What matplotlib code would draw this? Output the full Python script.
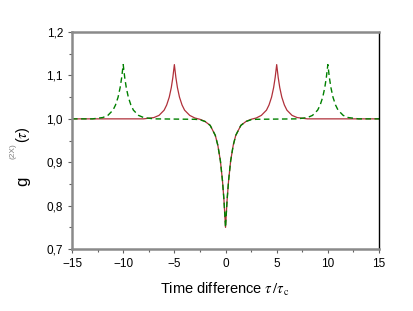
import numpy as np
import matplotlib.pyplot as plt
from matplotlib.ticker import MultipleLocator, FuncFormatter

plt.rcParams['font.family'] = ['Liberation Sans', 'DejaVu Sans']
plt.rcParams['mathtext.fontset'] = 'stix'

# === Data ===
tau_red = [-15, -8, -7, -6.5, -6, -5.75, -5.5, -5.3, -5.15, -5, -4.85, -4.7, -4.5, -4.25, -4,
           -3.5, -3, -2.5, -2, -1.5, -1, -0.75, -0.5, -0.3, -0.15, 0,
           0.15, 0.3, 0.5, 0.75, 1, 1.5, 2, 2.5, 3, 3.5,
           4, 4.25, 4.5, 4.7, 4.85, 5, 5.15, 5.3, 5.5, 5.75, 6, 6.5, 7, 8, 15]
g_red = [1.0, 1.0, 1.003, 1.008, 1.020, 1.032, 1.050, 1.072, 1.095, 1.125, 1.095, 1.072, 1.050, 1.032, 1.020,
         1.008, 1.002, 0.999, 0.994, 0.985, 0.962, 0.939, 0.903, 0.858, 0.812, 0.75,
         0.812, 0.858, 0.903, 0.939, 0.962, 0.985, 0.994, 0.999, 1.002, 1.008,
         1.020, 1.032, 1.050, 1.072, 1.095, 1.125, 1.095, 1.072, 1.050, 1.032, 1.020, 1.008, 1.003, 1.0, 1.0]

tau_green = [-15, -13, -12, -11.5, -11, -10.75, -10.5, -10.3, -10.15, -10, -9.85, -9.7, -9.5, -9.25, -9,
             -8.5, -8, -7, -3, -2.5, -2, -1.5, -1, -0.75, -0.5, -0.3, -0.15, 0,
             0.15, 0.3, 0.5, 0.75, 1, 1.5, 2, 2.5, 3,
             7, 8, 8.5, 9, 9.25, 9.5, 9.7, 9.85, 10, 10.15, 10.3, 10.5, 10.75, 11, 11.5, 12, 13, 15]
g_green = [1.0, 1.0, 1.003, 1.008, 1.020, 1.032, 1.050, 1.072, 1.095, 1.125, 1.095, 1.072, 1.050, 1.032, 1.020,
           1.008, 1.003, 1.0, 0.999, 0.998, 0.994, 0.985, 0.962, 0.939, 0.903, 0.858, 0.812, 0.75,
           0.812, 0.858, 0.903, 0.939, 0.962, 0.985, 0.994, 0.998, 0.999,
           1.0, 1.003, 1.008, 1.020, 1.032, 1.050, 1.072, 1.095, 1.125, 1.095, 1.072, 1.050, 1.032, 1.020, 1.008, 1.003, 1.0, 1.0]

# === Figure ===
fig = plt.figure(figsize=(4.14, 3.11), dpi=100)
ax = fig.add_axes([0.174, 0.199, 0.7415, 0.698])

ax.plot(tau_red, g_red, color='#b0303a', lw=0.9)
ax.plot(tau_green, g_green, color='#008000', lw=1.0, dashes=(4, 2.5))

ax.set_xlim(-15, 15)
ax.set_ylim(0.7, 1.2)
ax.xaxis.set_major_locator(MultipleLocator(5))
ax.xaxis.set_minor_locator(MultipleLocator(2.5))
ax.yaxis.set_major_locator(MultipleLocator(0.1))
ax.yaxis.set_minor_locator(MultipleLocator(0.05))
ax.yaxis.set_major_formatter(FuncFormatter(lambda v, p: f"{v:.1f}".replace('.', ',')))

for s in ['left', 'bottom', 'top']:
    ax.spines[s].set_color('#8a8a8a')
    ax.spines[s].set_linewidth(1.8)
ax.spines['right'].set_color('black')
ax.spines['right'].set_linewidth(1.0)

ax.tick_params(which='both', direction='out', colors='#606060', labelcolor='black', labelsize=8.5)
ax.tick_params(which='major', length=3, width=0.8)
ax.tick_params(which='minor', length=2, width=0.8)

ax.set_xlabel(r'Time difference $\tau\,/\tau_{\,\mathrm{c}}$', fontsize=10.5, labelpad=8)

# === y label in pieces: g, grey superscript, (tau) ===
fig.text(0.0556, 0.418, 'g', rotation=90, fontsize=12, ha='center', va='center')
fig.text(0.0314, 0.515, '(2X)', rotation=90, fontsize=6, color='#808080', ha='center', va='center')
fig.text(0.0556, 0.568, r'($\tau$)', rotation=90, fontsize=10.5, ha='center', va='center')

fig.savefig('out.png', dpi=100)
